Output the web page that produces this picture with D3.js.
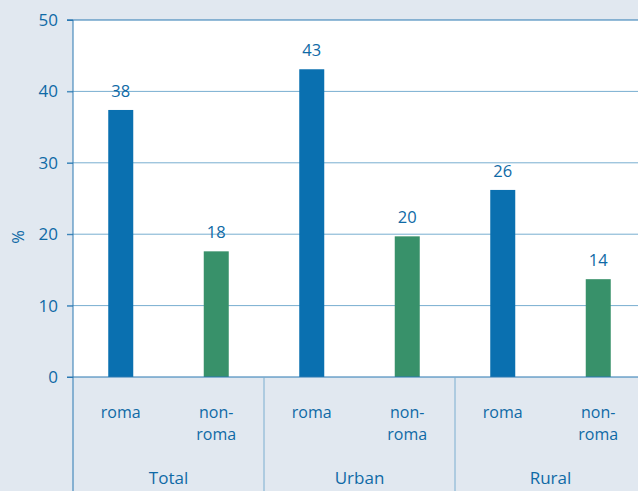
<!DOCTYPE html>
<html><head><meta charset="utf-8">
<script src="https://cdn.jsdelivr.net/npm/d3@7"></script>
<style>
html,body{margin:0;padding:0;background:#e1e8f0;overflow:hidden;}
svg{display:block;font-family:"Open Sans",sans-serif;}
</style></head><body>
<svg id="c" width="638" height="491"></svg>
<script>
const groups = ["Total", "Urban", "Rural"];
const subgroups = ["roma", "non-roma"];
const romaValues = [37.4, 43.1, 26.2];
const nonRomaValues = [17.6, 19.7, 13.7];
const valueLabels = [[38, 18], [43, 20], [26, 14]];
const yTicks = [0, 10, 20, 30, 40, 50];

const svg = d3.select("#c");
const W = 638, H = 491;
const m = {left: 73, top: 20, bottom: 114};
const plotRight = 646; // plot extends past the visible right edge
const ph = H - m.top - m.bottom;
const blue = "#0a70b0", green = "#38916a", txt = "#0f6aa6";

const y = d3.scaleLinear().domain([0, 50]).range([m.top + ph, m.top]);
const x0 = d3.scaleBand().domain(groups).range([m.left, plotRight]);
const x1 = d3.scaleBand().domain(subgroups).range([0, x0.bandwidth()]);

svg.append("rect").attr("x", m.left).attr("y", m.top).attr("width", W - m.left).attr("height", ph).attr("fill", "#fff");

// gridlines
svg.append("g").selectAll("line").data(yTicks.filter(d => d > 0 && d < 50)).join("line")
  .attr("x1", m.left - 6).attr("x2", W).attr("y1", d => y(d)).attr("y2", d => y(d))
  .attr("stroke", "#78aed0").attr("stroke-width", 1);
// top line
svg.append("line").attr("x1", m.left - 6).attr("x2", W).attr("y1", y(50)).attr("y2", y(50))
  .attr("stroke", "#2a78b2").attr("stroke-width", 1.2);

const data = [];
groups.forEach((g, i) => {
  data.push({g, s: "roma", v: romaValues[i], lab: valueLabels[i][0]});
  data.push({g, s: "non-roma", v: nonRomaValues[i], lab: valueLabels[i][1]});
});
const bw = 25;
svg.append("g").selectAll("rect").data(data).join("rect")
  .attr("x", d => x0(d.g) + x1(d.s) + x1.bandwidth() / 2 - bw / 2)
  .attr("width", bw)
  .attr("y", d => y(d.v)).attr("height", d => y(0) - y(d.v))
  .attr("fill", d => d.s === "roma" ? blue : green);

svg.append("g").selectAll("text").data(data).join("text")
  .attr("x", d => x0(d.g) + x1(d.s) + x1.bandwidth() / 2)
  .attr("y", d => y(d.v) - 13)
  .attr("text-anchor", "middle").attr("fill", txt).attr("font-size", 16.5)
  .text(d => d.lab);

// y axis
const yAxis = d3.axisLeft(y).tickValues(yTicks).tickSize(6).tickPadding(9);
const ga = svg.append("g").attr("transform", `translate(${m.left},0)`).call(yAxis);
ga.select(".domain").attr("stroke", "#2a78b2").attr("d", `M-6,${y(50)}H0V${y(0)}`);
ga.selectAll(".tick line").attr("stroke", "#2a78b2");
ga.selectAll(".tick text").attr("fill", txt).attr("font-size", 17).attr("font-family", "Open Sans, sans-serif");

// x axis line and separators
svg.append("line").attr("x1", m.left - 6).attr("x2", W).attr("y1", y(0)).attr("y2", y(0))
  .attr("stroke", "#2a78b2").attr("stroke-width", 1.2);
svg.append("g").selectAll("line").data(groups).join("line")
  .attr("x1", d => x0(d)).attr("x2", d => x0(d))
  .attr("y1", y(0)).attr("y2", H)
  .attr("stroke", (d, i) => i === 0 ? "#2a78b2" : "#7aaed0").attr("stroke-width", 1);

// sub labels
const sub = svg.append("g");
data.forEach(d => {
  const cx = x0(d.g) + x1(d.s) + x1.bandwidth() / 2;
  if (d.s === "roma") {
    sub.append("text").attr("text-anchor", "middle").attr("fill", txt).attr("font-size", 16)
      .attr("x", cx).attr("y", 418).text("roma");
  } else {
    sub.append("text").attr("text-anchor", "middle").attr("fill", txt).attr("font-size", 16)
      .attr("x", cx).attr("y", 418).text("non-");
    sub.append("text").attr("text-anchor", "middle").attr("fill", txt).attr("font-size", 16)
      .attr("x", cx).attr("y", 440).text("roma");
  }
});
svg.append("g").selectAll("text").data(groups).join("text")
  .attr("x", d => x0(d) + x0.bandwidth() / 2).attr("y", 484)
  .attr("text-anchor", "middle").attr("fill", txt).attr("font-size", 17)
  .text(d => d);

svg.append("text").attr("transform", `translate(24,237) rotate(-90)`)
  .attr("text-anchor", "middle").attr("fill", txt).attr("font-size", 16.5).text("%");
</script>
</body></html>
